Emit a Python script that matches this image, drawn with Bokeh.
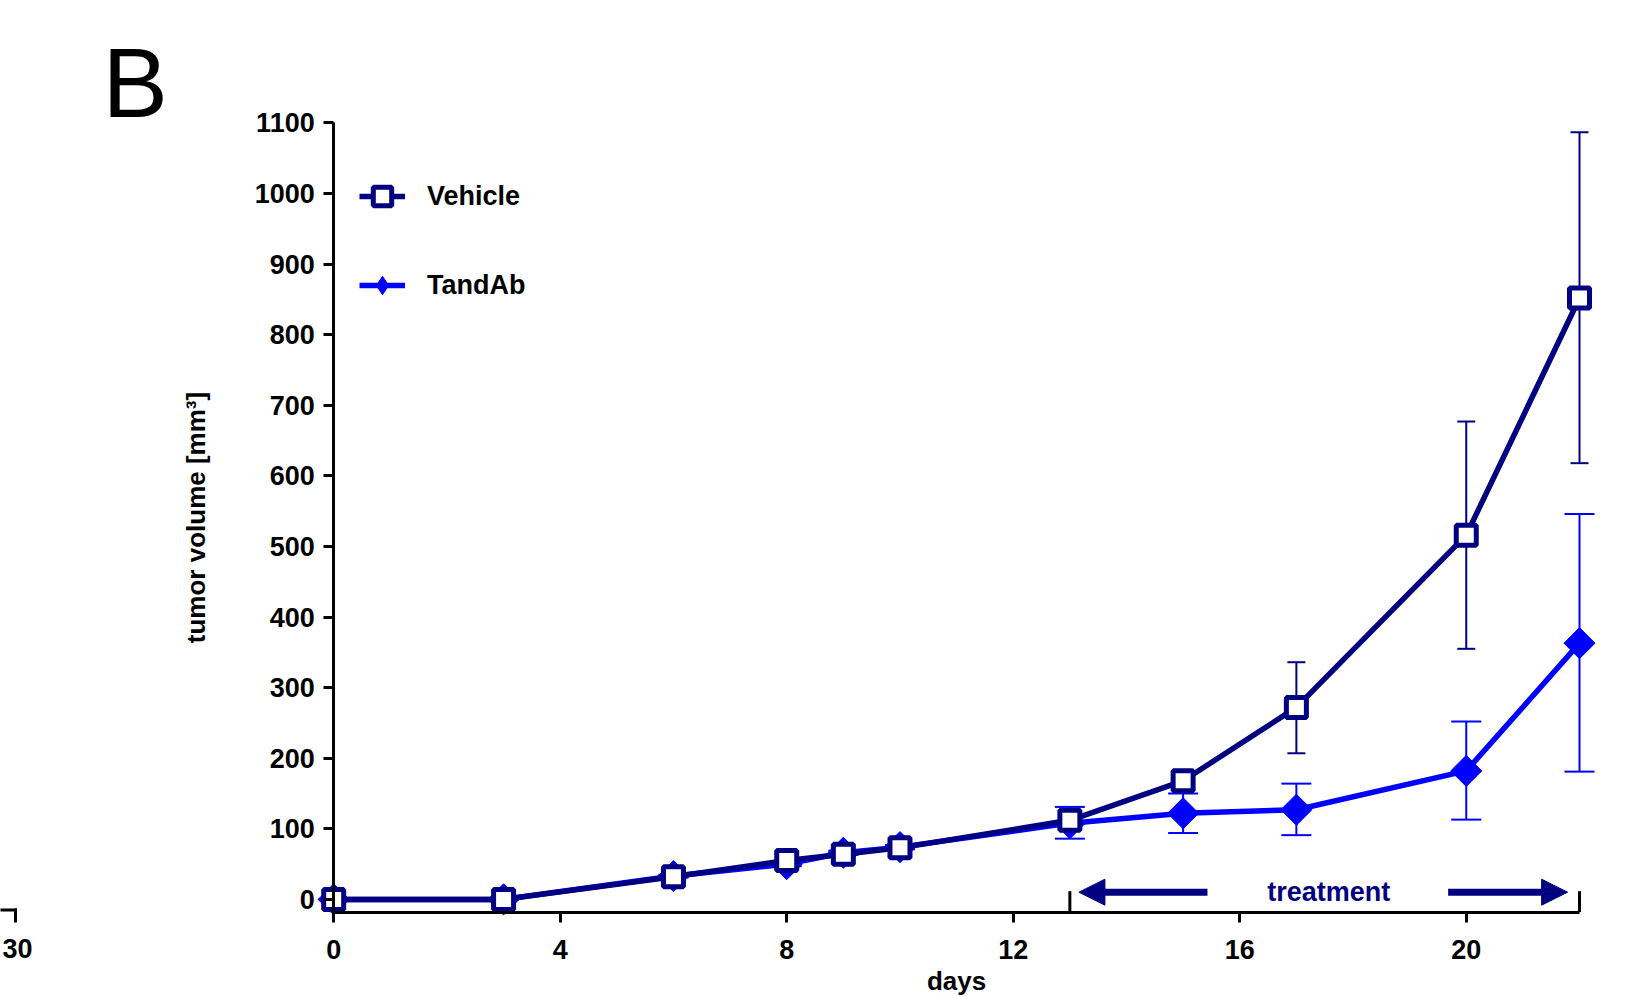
import numpy as np
from bokeh.plotting import figure
from bokeh.models import (Range1d, FixedTicker, Legend, LegendItem, Label, Arrow, NormalHead)
from bokeh.embed import file_html
from bokeh.resources import INLINE

# ---------------- data ----------------
days = [0, 3, 6, 8, 9, 10, 13, 15, 17, 20, 22]
vehicle_mean = [0, 0, 32, 55, 64, 73, 112, 168, 272, 516, 852]
vehicle_upper = [0, 0, 34, 58, 67, 76, 120, 178, 336, 677, 1087]
vehicle_lower = [0, 0, 30, 52, 61, 70, 104, 158, 207, 355, 618]
tandab_mean = [0, 0, 33, 50, 66, 74, 108, 122, 127, 182, 363]
tandab_upper = [0, 0, 35, 53, 69, 77, 131, 150, 164, 252, 546]
tandab_lower = [0, 0, 31, 47, 63, 71, 86, 94, 91, 113, 181]
x_ticks = [0, 4, 8, 12, 16, 20]
y_ticks = [0, 100, 200, 300, 400, 500, 600, 700, 800, 900, 1000, 1100]
x_bounds = (0, 22)
y_bounds = (-18, 1100)
treatment = [13, 22]

NAVY = "#000080"
BLUE = "#0000FF"
FONT = "Liberation Sans"

# whole canvas is the frame; axes are placed at fixed data locations
p = figure(width=1643, height=996,
           x_range=Range1d(-5.884, 23.130), y_range=Range1d(-137.6, 1273.5),
           output_backend="svg", toolbar_location=None,
           min_border_left=0, min_border_right=0,
           min_border_top=0, min_border_bottom=0)
p.grid.visible = False
p.outline_line_color = None
p.background_fill_color = "white"
p.border_fill_color = "white"

for ax in (p.xaxis, p.yaxis):
    ax.axis_line_width = 3
    ax.axis_line_color = "black"
    ax.major_tick_line_width = 3
    ax.major_tick_line_color = "black"
    ax.major_tick_out = 10
    ax.major_tick_in = 0
    ax.minor_tick_line_color = None
    ax.major_label_text_font = FONT
    ax.major_label_text_font_style = "bold"
    ax.major_label_text_font_size = "27px"
    ax.major_label_text_color = "black"

p.xaxis.ticker = FixedTicker(ticks=x_ticks)
p.xaxis.bounds = x_bounds
p.xaxis.fixed_location = y_bounds[0]
p.xaxis.major_label_standoff = 18
p.yaxis.ticker = FixedTicker(ticks=y_ticks)
p.yaxis.bounds = y_bounds
p.yaxis.fixed_location = x_bounds[0]
p.yaxis.major_label_standoff = 9
p.yaxis.axis_label = "tumor volume [mm³]"
p.yaxis.axis_label_text_font = FONT
p.yaxis.axis_label_text_font_style = "bold"
p.yaxis.axis_label_text_font_size = "26px"
p.yaxis.axis_label_text_color = "black"
p.yaxis.axis_label_standoff = 40

# error bars
p.segment(x0=days, x1=days, y0=tandab_lower, y1=tandab_upper, line_color=BLUE, line_width=2)
p.scatter(x=days, y=tandab_upper, marker="dash", size=30, line_color=BLUE, line_width=2)
p.scatter(x=days, y=tandab_lower, marker="dash", size=30, line_color=BLUE, line_width=2)
p.segment(x0=days, x1=days, y0=vehicle_lower, y1=vehicle_upper, line_color=NAVY, line_width=2)
p.scatter(x=days, y=vehicle_upper, marker="dash", size=18, line_color=NAVY, line_width=2)
p.scatter(x=days, y=vehicle_lower, marker="dash", size=18, line_color=NAVY, line_width=2)

# series
t_line = p.line(days, tandab_mean, line_color=BLUE, line_width=5.5)
p.scatter(days, tandab_mean, marker="square", angle=np.pi / 4, size=22,
          fill_color=BLUE, line_color=BLUE, line_width=1)
t_leg = p.scatter(x=[np.nan], y=[np.nan], marker="diamond",
                  fill_color=BLUE, line_color=BLUE, line_width=1)
v_line = p.line(days, vehicle_mean, line_color=NAVY, line_width=5.5)
v_sc = p.scatter(days, vehicle_mean, marker="square", size=20,
                 fill_color="white", line_color=NAVY, line_width=5)

legend = Legend(items=[LegendItem(label="Vehicle", renderers=[v_line, v_sc]),
                       LegendItem(label="TandAb", renderers=[t_line, t_leg])],
                location=(359, 686), orientation="vertical",
                glyph_width=46, glyph_height=50, label_height=50, spacing=39,
                label_standoff=22, padding=0, margin=0,
                border_line_color=None, background_fill_alpha=0,
                label_text_font=FONT, label_text_font_style="bold",
                label_text_font_size="27px", label_text_color="black")
p.add_layout(legend)

# treatment bracket
p.segment(x0=treatment, x1=treatment, y0=[y_bounds[0]] * 2, y1=[11.6, 11.6],
          line_color="black", line_width=3)
arrow_y = 10.2
p.add_layout(Arrow(x_start=treatment[0] + 2.43, y_start=arrow_y,
                   x_end=treatment[0] + 0.16, y_end=arrow_y,
                   line_color=NAVY, line_width=7,
                   end=NormalHead(size=26, fill_color=NAVY, line_color=NAVY, line_width=1)))
p.add_layout(Arrow(x_start=treatment[1] - 2.32, y_start=arrow_y,
                   x_end=treatment[1] - 0.21, y_end=arrow_y,
                   line_color=NAVY, line_width=7,
                   end=NormalHead(size=26, fill_color=NAVY, line_color=NAVY, line_width=1)))
p.add_layout(Label(x=17.57, y=arrow_y, text="treatment", text_align="center",
                   text_baseline="middle", text_font=FONT, text_font_style="bold",
                   text_font_size="27px", text_color=NAVY))

# x axis title
p.add_layout(Label(x=11, y=1, y_units="screen", text="days", text_align="center",
                   text_baseline="bottom", text_font=FONT, text_font_style="bold",
                   text_font_size="26px", text_color="black"))

# panel letter
p.add_layout(Label(x=102, y=914, x_units="screen", y_units="screen", text="B",
                   text_align="left", text_baseline="alphabetic", text_font=FONT,
                   text_font_size="98px", text_color="black"))

# fragment of neighbouring panel A
p.add_layout(Arrow(x_start=-5, y_start=86.5, x_end=16.5, y_end=86.5,
                   start_units="screen", end_units="screen", start=None, end=None,
                   line_color="black", line_width=3))
p.add_layout(Arrow(x_start=15, y_start=88, x_end=15, y_end=74,
                   start_units="screen", end_units="screen", start=None, end=None,
                   line_color="black", line_width=3))
p.add_layout(Label(x=17, y=48, x_units="screen", y_units="screen", text="30",
                   text_align="center", text_baseline="alphabetic", text_font=FONT,
                   text_font_style="bold", text_font_size="27px", text_color="black"))

open("out.html", "w").write(file_html(p, INLINE))
